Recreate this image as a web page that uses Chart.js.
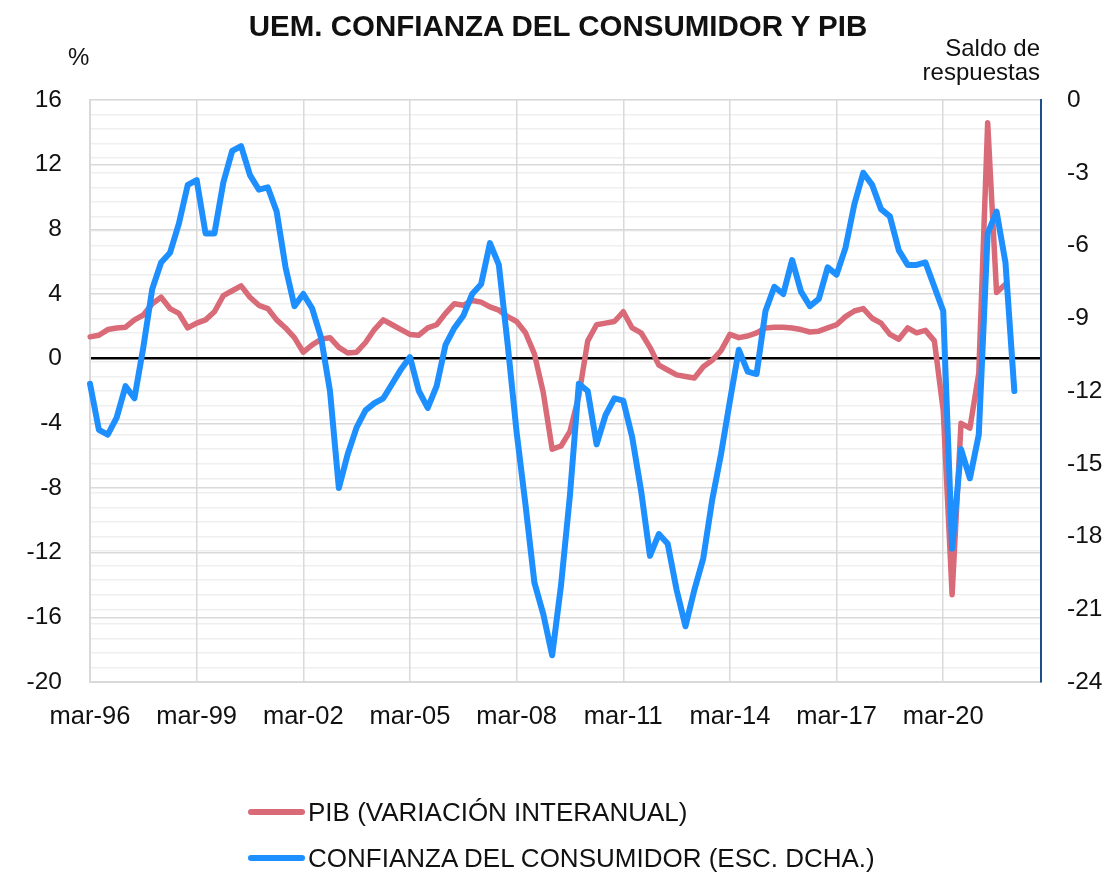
<!DOCTYPE html>
<html>
<head>
<meta charset="utf-8">
<script src="https://cdn.jsdelivr.net/npm/chart.js@4.4.0/dist/chart.umd.min.js"></script>
<style>
  body { margin: 0; background: #fff; }
  #wrap { position: relative; width: 1112px; height: 873px; font-family: "Liberation Sans", Arial, sans-serif; color: #111; }
  #title { position: absolute; left: 0; width: 1116px; top: 11px; text-align: center; font-weight: bold; font-size: 29.5px; line-height: 29.5px; }
  #pct { position: absolute; left: 68px; top: 45px; font-size: 24px; line-height: 24px; }
  #saldo { position: absolute; right: 72px; top: 36px; font-size: 24px; line-height: 24px; text-align: right; }
  .leg { position: absolute; left: 248px; font-size: 26px; line-height: 26px; white-space: nowrap; }
  .leg span.sw { position: absolute; left: 0; top: 10px; width: 57px; height: 6px; border-radius: 3px; }
  .leg span.tx { position: absolute; left: 60px; top: 0; }
</style>
</head>
<body>
<div id="wrap">
  <canvas id="myChart" width="1112" height="873"></canvas>
  <div id="title">UEM. CONFIANZA DEL CONSUMIDOR Y PIB</div>
  <div id="pct">%</div>
  <div id="saldo">Saldo de<br>respuestas</div>
  <div class="leg" style="top:799px"><span class="sw" style="background:#d96b78"></span><span class="tx">PIB (VARIACIÓN INTERANUAL)</span></div>
  <div class="leg" style="top:845px"><span class="sw" style="background:#1e8fff"></span><span class="tx">CONFIANZA DEL CONSUMIDOR (ESC. DCHA.)</span></div>
</div>
<script>
// quarters mar-96 ... dic-22
const years = ['96','97','98','99','00','01','02','03','04','05','06','07','08','09',
               '10','11','12','13','14','15','16','17','18','19','20','21','22'];
const months = ['mar', 'jun', 'sep', 'dic'];
const quarters = [];
years.forEach(y => months.forEach(m => quarters.push(m + '-' + y)));

const tickLabels = ['mar-96','mar-99','mar-02','mar-05','mar-08','mar-11','mar-14','mar-17','mar-20'];

// PIB, variación interanual (%)
const pib = [
  1.35, 1.45, 1.8, 1.9,   1.95, 2.4, 2.7, 3.4,    3.8, 3.1, 2.8, 1.9,
  2.2, 2.4, 2.9, 3.9,     4.2, 4.5, 3.8, 3.3,     3.1, 2.4, 1.9, 1.3,
  0.4, 0.85, 1.2, 1.3,    0.7, 0.35, 0.4, 1.0,    1.8, 2.4, 2.1, 1.8,
  1.5, 1.45, 1.9, 2.1,    2.8, 3.4, 3.3, 3.6,     3.5, 3.2, 3.0, 2.6,
  2.3, 1.6, 0.3, -2.1,    -5.6, -5.4, -4.5, -2.3, 1.1, 2.1, 2.2, 2.3,
  2.9, 1.9, 1.6, 0.7,     -0.4, -0.7, -1.0, -1.1, -1.2, -0.5, -0.1, 0.5,
  1.5, 1.3, 1.4, 1.6,     1.9, 1.95, 1.95, 1.9,   1.8, 1.65, 1.7, 1.9,
  2.1, 2.6, 2.95, 3.1,    2.5, 2.2, 1.5, 1.2,     1.9, 1.6, 1.75, 1.1,
  -3.2, -14.6, -4.0, -4.3, -0.9, 14.6, 4.1, 4.6
];

// Confianza del consumidor (saldo de respuestas, escala dcha.)
const confianza = [
  -11.7, -13.6, -13.8, -13.1, -11.8, -12.3, -10.2, -7.8,  -6.7, -6.3, -5.1, -3.5,
  -3.3, -5.5, -5.5, -3.4,     -2.1, -1.9, -3.1, -3.7,     -3.6, -4.6, -6.9, -8.5,
  -8.0, -8.6, -9.8, -12.0,    -16.0, -14.6, -13.5, -12.8, -12.5, -12.3, -11.7, -11.1,
  -10.6, -12.0, -12.7, -11.8, -10.1, -9.4, -8.9, -8.0,    -7.6, -5.9, -6.8, -10.1,
  -13.7, -16.7, -19.9, -21.2, -22.9, -20.0, -16.3, -11.7, -12.0, -14.2, -13.0, -12.3,
  -12.4, -13.9, -16.1, -18.8, -17.9, -18.3, -20.2, -21.7, -20.2, -18.9, -16.5, -14.6,
  -12.4, -10.3, -11.2, -11.3, -8.7, -7.7, -8.0, -6.6,     -7.9, -8.5, -8.2, -6.9,
  -7.2, -6.1, -4.3, -3.0,     -3.5, -4.5, -4.8, -6.2,     -6.8, -6.8, -6.7, -7.7,
  -8.7, -18.5, -14.4, -15.6,  -13.8, -5.5, -4.6, -6.7,    -12.0
];

const fontFam = '"Liberation Sans", Arial, sans-serif';

const ctx = document.getElementById('myChart');
const myChart = new Chart(ctx, {
  type: 'line',
  data: {
    labels: quarters,
    datasets: [
      {
        label: 'PIB (VARIACIÓN INTERANUAL)',
        data: pib,
        yAxisID: 'y',
        borderColor: '#d96b78',
        backgroundColor: '#d96b78',
        borderWidth: 5.5,
        pointRadius: 0,
        tension: 0,
        borderJoinStyle: 'round',
        borderCapStyle: 'round',
        order: 2
      },
      {
        label: 'CONFIANZA DEL CONSUMIDOR (ESC. DCHA.)',
        data: confianza,
        yAxisID: 'y1',
        borderColor: '#1e8fff',
        backgroundColor: '#1e8fff',
        borderWidth: 6,
        pointRadius: 0,
        tension: 0,
        borderJoinStyle: 'round',
        borderCapStyle: 'round',
        order: 1
      }
    ]
  },
  options: {
    responsive: false,
    devicePixelRatio: 1,
    animation: false,
    layout: { padding: { top: 100, left: 0, right: 0, bottom: 0 } },
    plugins: {
      legend: { display: false },
      title: { display: false },
      tooltip: { enabled: false }
    },
    scales: {
      x: {
        offset: false,
        grid: {
          drawTicks: false,
          color: (c) => (c.tick && tickLabels.includes(c.tick.label)) ? '#d9d9d9' : 'rgba(0,0,0,0)',
          lineWidth: 1.5
        },
        border: { color: '#d9d9d9', width: 2 },
        ticks: {
          autoSkip: false,
          maxRotation: 0,
          padding: 20,
          color: '#111',
          font: { family: fontFam, size: 25.5 },
          callback: function (v, i) {
            const l = quarters[i];
            return tickLabels.includes(l) ? l : '';
          }
        },
        afterFit: (scale) => { scale.height = 191; }
      },
      y: {
        position: 'left',
        min: -20,
        max: 16,
        grid: {
          drawTicks: false,
          color: (c) => c.tick && c.tick.value === 0 ? '#000' : '#d9d9d9',
          lineWidth: (c) => c.tick && c.tick.value === 0 ? 2.5 : 1.5
        },
        border: { color: '#d9d9d9', width: 2 },
        ticks: { stepSize: 4, padding: 28, color: '#111', font: { family: fontFam, size: 24.5 } },
        afterFit: (scale) => { scale.width = 90; }
      },
      y1: {
        position: 'right',
        min: -24,
        max: 0,
        grid: {
          drawTicks: false,
          color: '#efefef',
          lineWidth: 1.5,
          z: -2
        },
        border: { color: '#1f4f8a', width: 2 },
        ticks: {
          stepSize: 0.6,
          autoSkip: false,
          padding: 26,
          color: '#111',
          font: { family: fontFam, size: 24.5 },
          callback: function (v) {
            const r = v / 3;
            return Math.abs(r - Math.round(r)) < 1e-6 ? String(Math.round(v)) : '';
          }
        },
        afterFit: (scale) => { scale.width = 71; }
      }
    }
  }
});
</script>
</body>
</html>
